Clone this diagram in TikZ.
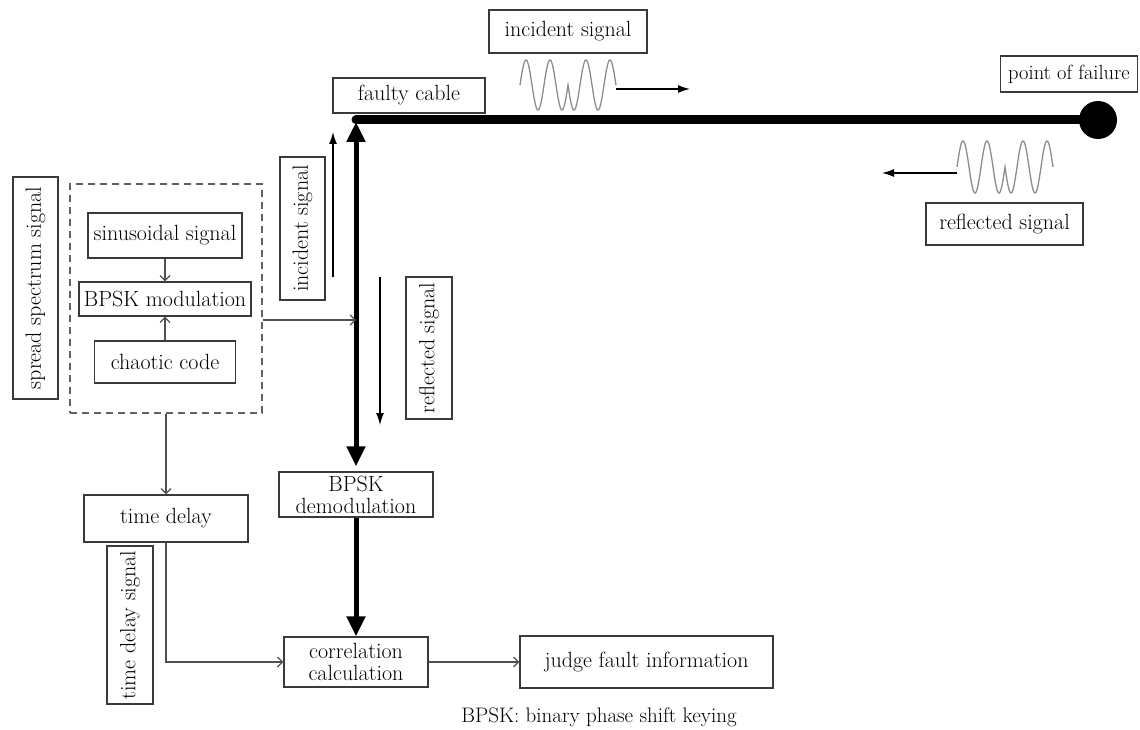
\documentclass[tikz,border=0pt]{standalone}
\usepackage{fontspec}
\usetikzlibrary{arrows.meta}
\definecolor{boxgray}{HTML}{3A3A3A}
\definecolor{linegray}{HTML}{505050}
\definecolor{wavegray}{HTML}{8C8C8C}
\newcommand{\blockfont}{\fontsize{22}{22}\selectfont}
\newcommand{\notefont}{\fontsize{21}{22}\selectfont}
\tikzset{
  block/.style={
    draw=boxgray,
    line width=1.3pt,
    inner sep=1.5pt,
    align=center,
    font=\blockfont
  },
  vblock/.style={block, rotate=90},
  dashblock/.style={draw=boxgray!80, line width=1.3pt, dash pattern=on 7pt off 5pt},
  thinline/.style={draw=linegray, line width=1.2pt},
  openarrow/.style={thinline, -{Straight Barb[length=5pt,width=10pt]}},
  sigarrow/.style={draw=black, line width=1.3pt, -{Latex[length=12pt,width=8pt]}},
  cable/.style={line width=9pt, line cap=round},
  feedline/.style={line width=5pt},
  bigtip/.tip={Triangle[length=20pt,width=18pt]},
  wave/.style={draw=wavegray, line width=1.3pt}
}

\begin{document}
\begin{tikzpicture}[x=1pt,y=-1pt]
  \useasboundingbox (0,0) rectangle (1140,730);

  % transmitter
  \node[dashblock, minimum width=192pt, minimum height=229pt] (source) at (166,298.5) {};
  \node[block, minimum width=154pt, minimum height=45pt] (sine) at (165,235.5) {sinusoidal signal};
  \node[block, minimum width=172pt, minimum height=34pt] (bpskmod) at (165,299) {BPSK modulation};
  \node[block, minimum width=141pt, minimum height=42pt] (chaos) at (165,362) {chaotic code};
  \node[vblock, minimum width=222pt, minimum height=45pt] (spreadlabel) at (35.5,288) {spread spectrum signal};

  \draw[openarrow] (sine) -- (bpskmod);
  \draw[openarrow] (chaos) -- (bpskmod);

  % cable and fault
  \coordinate (corner) at (356,120);
  \node[circle, fill=black, minimum size=38pt, inner sep=0pt] (failure) at (1098,120) {};
  \draw[cable] (corner) -- (failure);
  \node[block, minimum width=152pt, minimum height=35pt] (faulty) at (409,95.5) {faulty cable};
  \node[block, minimum width=137pt, minimum height=36pt, font=\fontsize{20.5}{22}\selectfont] (pointlabel) at (1069,74) {point of failure};

  % travelling waves
  \node[block, minimum width=158pt, minimum height=43pt] (incidentlabel) at (568,31.5) {incident signal};
  \draw[wave] plot[domain=0:1440, samples=241] ({520+\x/15}, {85-25*sin(\x)*(1-2*(\x>720))});
  \coordinate (incstart) at (616,89);
  \coordinate (incend) at (690,89);
  \draw[sigarrow] (incstart) -- (incend);

  \node[block, minimum width=157pt, minimum height=42pt] (reflectedlabel) at (1004.5,224) {reflected signal};
  \draw[wave] plot[domain=0:1440, samples=241] ({957+\x/15}, {167-26*sin(\x)*(1-2*(\x>720))});
  \coordinate (refstart) at (957,173);
  \coordinate (refend) at (882,173);
  \draw[sigarrow] (refstart) -- (refend);

  % receiver
  \node[block, minimum width=154pt, minimum height=45pt] (demod) at (356,494.5) {BPSK\\demodulation};
  \node[block, minimum width=144pt, minimum height=50pt] (corr) at (356,662) {correlation\\calculation};
  \node[block, minimum width=253pt, minimum height=52pt] (judge) at (646.5,662) {judge fault information};
  \node[block, minimum width=164pt, minimum height=47pt] (timedelay) at (166,518.5) {time delay};

  \draw[feedline, bigtip-bigtip] ([yshift=-2pt]corner) -- ([yshift=5pt]demod.north);
  \draw[feedline, -bigtip] (demod) -- (corr);

  \node[vblock, minimum width=143pt, minimum height=45pt] (incidentside) at (302.5,228.5) {incident signal};
  \node[vblock, minimum width=142pt, minimum height=46pt] (reflectedside) at (429,348) {reflected signal};
  \coordinate (incfrom) at (333,277);
  \coordinate (incto) at (333,132);
  \draw[sigarrow] (incfrom) -- (incto);
  \coordinate (reffrom) at (380,277);
  \coordinate (refto) at (380,425);
  \draw[sigarrow] (reffrom) -- (refto);

  \coordinate (tap) at (356,320);
  \draw[openarrow] (source.east |- tap) -- (tap);
  \draw[openarrow] (source) -- (timedelay);
  \draw[openarrow] (timedelay.south) |- (corr.west);
  \draw[openarrow] (corr) -- (judge);
  \node[vblock, minimum width=158pt, minimum height=46pt] (delaysignal) at (130,625) {time delay signal};

  \node[font=\notefont] (note) at (599,717) {BPSK: binary phase shift keying};
\end{tikzpicture}
\end{document}
